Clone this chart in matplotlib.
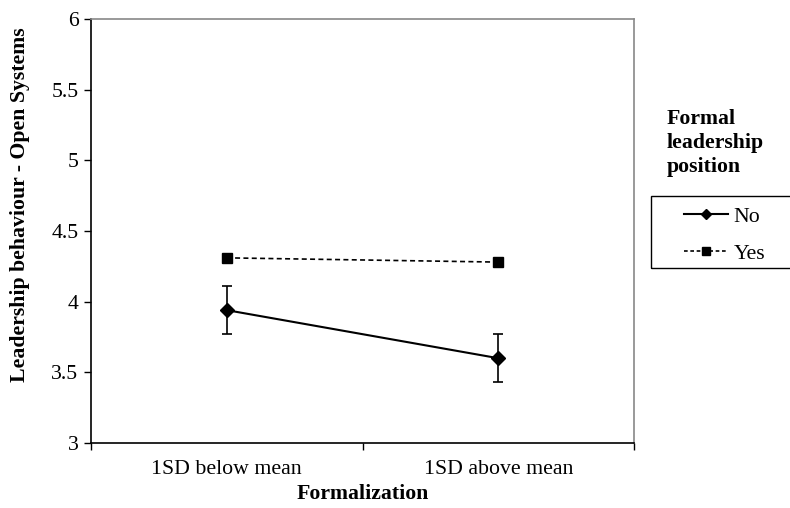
import matplotlib
matplotlib.use("Agg")
import matplotlib.pyplot as plt
from matplotlib.lines import Line2D
from matplotlib.patches import Rectangle

plt.rcParams['font.family'] = ['Liberation Serif', 'DejaVu Serif']

categories = ["1SD below mean", "1SD above mean"]
no_values = [3.94, 3.60]
no_err = [0.17, 0.17]
yes_values = [4.31, 4.28]
series_names = ["No", "Yes"]
legend_title = "Formal\nleadership\nposition"
yticks = [3, 3.5, 4, 4.5, 5, 5.5, 6]
ytick_labels = ["3", "3.5", "4", "4.5", "5", "5.5", "6"]

FS = 15.7

fig = plt.figure(figsize=(7.9, 5.08), dpi=100)
ax = fig.add_axes([91/790, 1-443/508, (634-91)/790, (443-19)/508])

x = [0.5, 1.5]
ax.errorbar(x, no_values, yerr=no_err, color='black', lw=1.5, marker='D', ms=7,
            capsize=3.5, elinewidth=1.2, capthick=1.2, label=series_names[0])
ax.plot(x, yes_values, color='black', lw=1.2, ls=(0, (3, 2)), marker='s', ms=7.5,
        label=series_names[1])

ax.set_xlim(0, 2)
ax.set_ylim(3, 6)
ax.set_yticks(yticks)
ax.set_yticklabels(ytick_labels, fontsize=FS)
ax.set_xticks(x)
ax.set_xticklabels(categories, fontsize=FS)
ax.tick_params(axis='x', which='major', length=0, pad=12)
ax.set_xticks([0, 1, 2], minor=True)
ax.tick_params(axis='x', which='minor', length=5, direction='out', width=1)
ax.tick_params(axis='y', which='major', length=5, direction='out', width=1, pad=4)

for s in ['top', 'right']:
    ax.spines[s].set_color('#888888')
    ax.spines[s].set_linewidth(1.2)
for s in ['left', 'bottom']:
    ax.spines[s].set_color('black')
    ax.spines[s].set_linewidth(1.2)

ax.set_xlabel("Formalization", fontsize=FS, fontweight='bold', labelpad=4)
ax.set_ylabel("Leadership behaviour - Open Systems", fontsize=FS, fontweight='bold')
ax.yaxis.set_label_coords((30 - 91) / 543, (443 - 205) / 424)

fig.text(667/790, 1-109/508, legend_title, fontsize=FS, fontweight='bold',
         ha='left', va='top', linespacing=1.25)

fig.patches.append(Rectangle((651/790, 1-268/508), (800-651)/790, 72/508,
                             transform=fig.transFigure, fill=False,
                             edgecolor='black', lw=1.0))

handles = [Line2D([], [], color='black', lw=1.5, marker='D', ms=5),
           Line2D([], [], color='black', lw=1.2, ls=(0, (2.2, 1.6)), marker='s', ms=6)]
leg = fig.legend(handles, series_names, loc='upper left',
                 bbox_to_anchor=(667/790, 1-189/508), frameon=False,
                 fontsize=FS, handlelength=2.0, borderpad=0.3,
                 labelspacing=0.78, handletextpad=0.25)

fig.savefig("out.png", dpi=100)
